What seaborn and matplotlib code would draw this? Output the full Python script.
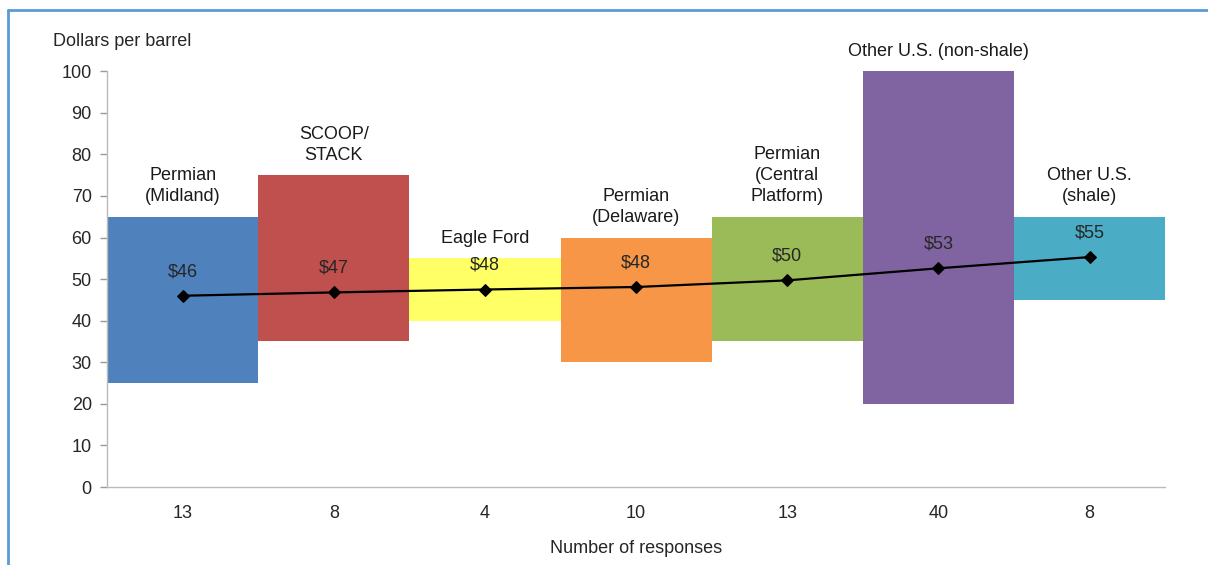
import pandas as pd
import seaborn as sns
import matplotlib.pyplot as plt
from matplotlib.lines import Line2D

# Data
regions = ['Permian\n(Midland)', 'SCOOP/\nSTACK', 'Eagle Ford', 'Permian\n(Delaware)',
           'Permian\n(Central\nPlatform)', 'Other U.S. (non-shale)', 'Other U.S.\n(shale)']
responses = [13, 8, 4, 10, 13, 40, 8]
low = [25, 35, 40, 30, 35, 20, 45]
high = [65, 75, 55, 60, 65, 100, 65]
mean = [46.0, 46.8, 47.5, 48.1, 49.7, 52.6, 55.3]
mean_labels = ['$46', '$47', '$48', '$48', '$50', '$53', '$55']
colors = ['#4F81BD', '#C0504D', '#FFFF66', '#F79646', '#9BBB59', '#8064A2', '#4BACC6']

df = pd.DataFrame({'region': regions, 'low': low, 'high': high, 'mean': mean})
df['span'] = df['high'] - df['low']

sns.set_style('white')
plt.rcParams['font.family'] = ['Liberation Sans', 'DejaVu Sans']
fs = 13

fig = plt.figure(figsize=(12.08, 5.65), dpi=100)
ax = fig.add_axes([0.0886, 0.138, 0.876, 0.736])

sns.barplot(data=df, x='region', y='span', hue='region', palette=colors,
            width=1.0, dodge=False, legend=False, saturation=1, ax=ax)
# float each bar from its low value
for patch, lo in zip(ax.patches, df['low']):
    patch.set_y(lo)
    patch.set_linewidth(0)

sns.lineplot(x=list(range(len(regions))), y=df['mean'], color='black',
             marker='D', markersize=6, markeredgecolor='black', linewidth=1.6, ax=ax)

for i, (m, lab) in enumerate(zip(mean, mean_labels)):
    ax.text(i, m + 5.8, lab, ha='center', va='center', fontsize=fs, color='#262626')
for i, (r, h) in enumerate(zip(regions, high)):
    ax.text(i, h + 2.8, r, ha='center', va='bottom', fontsize=fs,
            color='#1a1a1a', linespacing=1.3)

ax.set_xlim(-0.5, len(regions) - 0.5)
ax.set_ylim(0, 100)
ax.set_yticks(range(0, 101, 10))
ax.set_xticks(range(len(regions)))
ax.set_xticklabels([str(n) for n in responses])
ax.set_xticks([i - 0.5 for i in range(len(regions) + 1)], minor=True)
ax.tick_params(axis='x', which='major', length=0, pad=13, labelsize=fs)
ax.tick_params(axis='x', which='minor', length=5, color='#999999', width=1, direction='out')
ax.tick_params(axis='y', length=5, color='#999999', width=1, labelsize=fs, left=True, pad=6)
ax.set_xlabel('Number of responses', fontsize=fs, labelpad=13)
ax.set_ylabel('')
fig.text(53 / 1208, 1 - 42 / 565, 'Dollars per barrel', ha='left', va='center', fontsize=fs)

for s in ['top', 'right']:
    ax.spines[s].set_visible(False)
for s in ['left', 'bottom']:
    ax.spines[s].set_color('#BBBBBB')
    ax.spines[s].set_linewidth(1)

# light blue frame around the figure (top and left edges)
fig.add_artist(Line2D([8 / 1208, 1.0], [1 - 10 / 565, 1 - 10 / 565],
                      transform=fig.transFigure, color='#5B9BD5', linewidth=2))
fig.add_artist(Line2D([8 / 1208, 8 / 1208], [0.0, 1 - 10 / 565],
                      transform=fig.transFigure, color='#5B9BD5', linewidth=2))

fig.savefig('out.png', dpi=100)
